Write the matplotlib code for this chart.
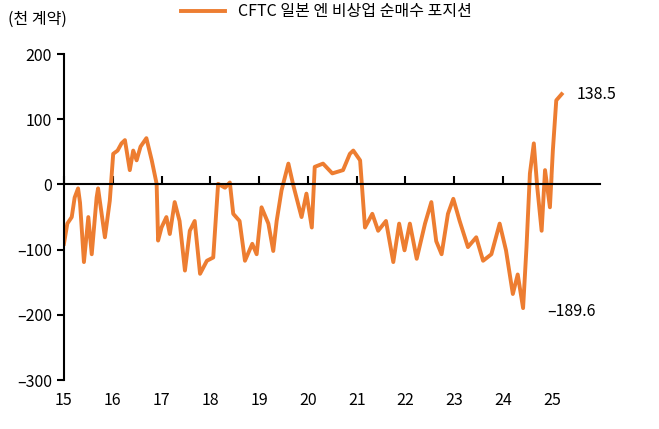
import matplotlib
matplotlib.use("Agg")
import matplotlib.pyplot as plt
import matplotlib.transforms as mtransforms

plt.rcParams["font.family"] = ["Noto Sans CJK KR", "Noto Sans CJK JP", "Noto Sans CJK SC", "DejaVu Sans"]

# year (decimal, 15 = 2015) and net position (thousand contracts)
years = [15.0, 15.07, 15.16, 15.22, 15.29, 15.33, 15.41, 15.5, 15.57, 15.67, 15.7, 15.84, 15.94,
         16.01, 16.1, 16.18, 16.25, 16.35, 16.42, 16.49, 16.57, 16.69, 16.8, 16.9, 16.93,
         17.0, 17.1, 17.17, 17.27, 17.37, 17.48, 17.58, 17.68, 17.79, 17.93,
         18.06, 18.16, 18.3, 18.4, 18.47, 18.6, 18.71, 18.86, 18.95,
         19.05, 19.19, 19.29, 19.36, 19.46, 19.6, 19.7, 19.8, 19.87, 19.97,
         20.08, 20.14, 20.31, 20.5, 20.72, 20.86, 20.93, 21.07, 21.17, 21.32, 21.44, 21.6, 21.75,
         21.87, 21.98, 22.09, 22.23, 22.4, 22.53, 22.63, 22.74, 22.87, 22.98,
         23.11, 23.28, 23.45, 23.59, 23.76, 23.93, 24.06, 24.2, 24.3, 24.41, 24.48, 24.55,
         24.63, 24.7, 24.79, 24.86, 24.96, 25.02, 25.09, 25.2]
values = [-91, -60, -50, -20, -6, -28, -119, -50, -107, -20, -6, -81, -25,
          47, 52, 63, 68, 22, 52, 37, 58, 71, 37, 1, -86,
          -66, -50, -76, -27, -56, -132, -71, -56, -137, -117,
          -112, 1, -5, 3, -45, -56, -117, -91, -107,
          -35, -60, -102, -56, -9, 32, -1, -30, -50, -14,
          -66, 27, 32, 17, 22, 47, 52, 37, -66, -45, -71, -56, -119,
          -60, -101, -60, -114, -60, -27, -87, -107, -45, -22,
          -56, -96, -81, -117, -107, -60, -101, -168, -138, -189.6, -96, 17,
          63, -4, -71, 22, -35, 52, 129, 138.5]
year_ticks = list(range(15, 26))
y_ticks = [-300, -200, -100, 0, 100, 200]
orange = "#ED7D31"

fig = plt.figure(figsize=(6.59, 4.29), dpi=100)
ax = fig.add_axes([0.097, 0.114, 0.813, 0.76])
ax.plot(years, values, color=orange, linewidth=2.8,
        label="CFTC 일본 엔 비상업 순매수 포지션")
ax.set_xlim(15, 25.98)
ax.set_ylim(-300, 200)

for s in ["top", "right"]:
    ax.spines[s].set_visible(False)
ax.spines["bottom"].set_position(("data", 0))
ax.spines["bottom"].set_linewidth(1.5)
ax.spines["left"].set_linewidth(1.5)
ax.set_xticks(year_ticks)
ax.tick_params(axis="x", direction="in", length=6, width=1.5, labelbottom=False)
ax.tick_params(axis="y", direction="out", length=5, width=1.5, labelsize=11.5)
ax.set_yticks(y_ticks)
ax.set_yticklabels([f"{v}".replace("-", "\u2013") for v in y_ticks])

trans = mtransforms.blended_transform_factory(ax.transData, ax.transAxes)
for yr in year_ticks:
    ax.text(yr, -0.035, str(yr), transform=trans, ha="center", va="top", fontsize=11.5)

ax.text(25.5, 138.5, "138.5", ha="left", va="center", fontsize=11.5)
ax.text(24.9, -195, "\u2013189.6", ha="left", va="center", fontsize=11.5)

fig.text(0.012, 0.955, "(천 계약)", fontsize=11.5, va="center")
ax.legend(loc="upper center", bbox_to_anchor=(0.49, 1.2), frameon=False,
          fontsize=11.5, handlelength=2.8)

fig.savefig("out.png", dpi=100)
